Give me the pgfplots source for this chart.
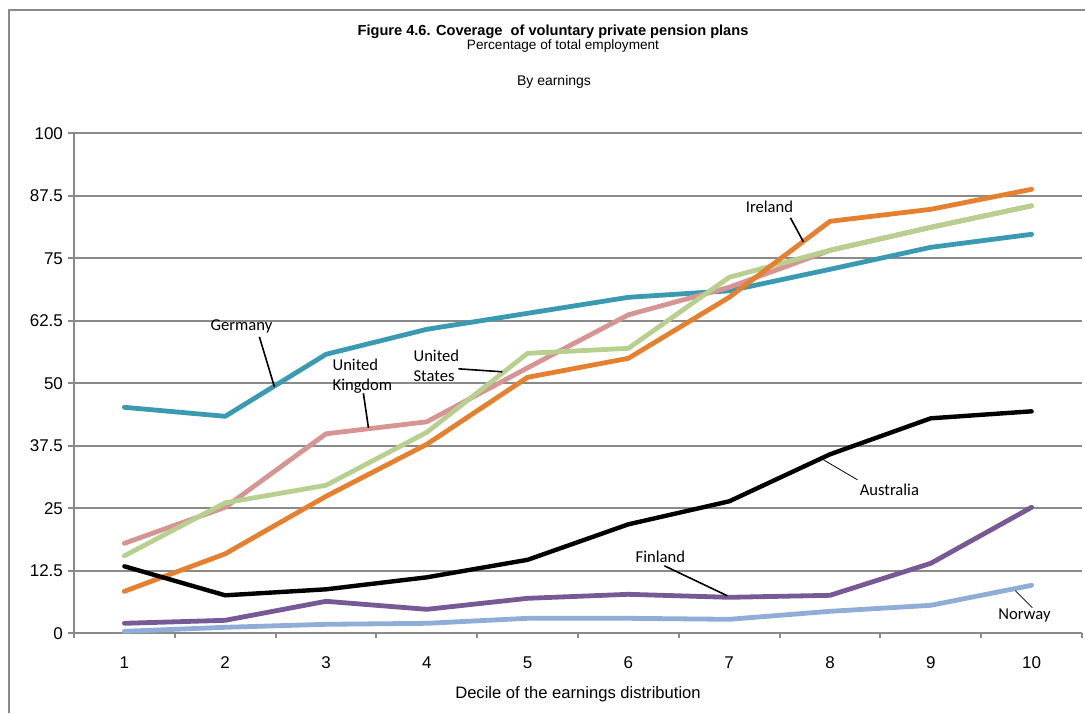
\documentclass[border=0pt]{standalone}
\usepackage{pgfplots}
\pgfplotsset{compat=1.18}
\usepackage{fontspec}
\setmainfont{Liberation Sans}
\newfontfamily\calibri{Carlito}

\definecolor{gridgray}{HTML}{8A8A8A}
\definecolor{germany}{HTML}{3A9AB2}
\definecolor{ireland}{HTML}{E5802F}
\definecolor{uk}{HTML}{D69593}
\definecolor{us}{HTML}{B8D08F}
\definecolor{finland}{HTML}{775A95}
\definecolor{norway}{HTML}{8FADD6}

\begin{document}
\begin{tikzpicture}
% page: 1085 x 713 px, 1 px = 0.5pt, y downward
\useasboundingbox (0,0) rectangle (542.5pt,-356.5pt);
\draw[gridgray, line width=1pt] (4.25pt,-356.5pt) -- (4.25pt,-5pt) -- (542.5pt,-5pt);

\node[font=\fontsize{7.3}{8}\selectfont\bfseries] at (276.5pt,-16pt) {Figure 4.6. Coverage\ \ of voluntary private pension plans};
\node[font=\fontsize{6.8}{8}\selectfont] at (281.5pt,-22.8pt) {Percentage of total employment};
\node[font=\fontsize{7}{8}\selectfont] at (277pt,-41pt) {By earnings};

\begin{axis}[
    at={(37pt,-316.65pt)}, anchor=south west,
    scale only axis, width=504pt, height=250pt,
    xmin=0.5, xmax=10.5, ymin=0, ymax=100,
    clip=false,
    axis x line*=bottom, axis y line*=left,
    axis line style={gridgray, line width=1pt, -},
    xtick={1,...,10},
    minor xtick={0.5,1.5,...,10.5},
    ytick={0,12.5,25,37.5,50,62.5,75,87.5,100},
    yticklabels={0,12.5,25,37.5,50,62.5,75,87.5,100},
    tick align=outside,
    major tick length=3pt, minor tick length=2.5pt,
    x tick style={draw=none},
    minor x tick style={draw=gridgray, line width=1pt},
    y tick style={gridgray, line width=1pt},
    ymajorgrids,
    grid style={gridgray, line width=1pt},
    tick label style={font=\fontsize{8.5}{10}\selectfont},
    yticklabel style={xshift=1pt},
    xticklabel style={yshift=-5pt},
    /pgf/number format/assume math mode=true,
    xlabel={Decile of the earnings distribution},
    xlabel style={font=\fontsize{8.3}{10}\selectfont, yshift=-2pt},
    every axis plot/.append style={line width=2.4pt, line join=round, line cap=round, mark=none},
]
\addplot[germany] coordinates {(1,45.2) (2,43.4) (3,55.8) (4,60.8) (5,64.0) (6,67.2) (7,68.5) (8,72.8) (9,77.2) (10,79.8)};
\addplot[uk] coordinates {(1,18.0) (2,25.2) (3,39.9) (4,42.3) (5,53.1) (6,63.7) (7,69.2) (8,76.6) (9,81.2) (10,85.5)};
\addplot[us] coordinates {(1,15.5) (2,26.1) (3,29.6) (4,40.2) (5,56.0) (6,57.0) (7,71.2) (8,76.6) (9,81.2) (10,85.5)};
\addplot[ireland] coordinates {(1,8.4) (2,15.9) (3,27.4) (4,37.8) (5,51.2) (6,55.0) (7,67.2) (8,82.4) (9,84.8) (10,88.8)};
\addplot[black, line width=2.2pt] coordinates {(1,13.4) (2,7.6) (3,8.8) (4,11.2) (5,14.7) (6,21.8) (7,26.4) (8,35.8) (9,43.0) (10,44.4)};
\addplot[finland] coordinates {(1,2.0) (2,2.6) (3,6.4) (4,4.8) (5,7.0) (6,7.8) (7,7.2) (8,7.6) (9,14.0) (10,25.2)};
\addplot[norway] coordinates {(1,0.4) (2,1.2) (3,1.8) (4,2.0) (5,3.0) (6,3.0) (7,2.8) (8,4.4) (9,5.6) (10,9.6)};

% annotations
\begin{scope}[every node/.style={font=\calibri\fontsize{8.3}{10}\selectfont, align=left, inner sep=0pt}]
\node at (axis cs:2.161,61.3) {Germany};
\draw[line width=0.8pt] (axis cs:2.339,59.3) -- (axis cs:2.488,49.3);
\node at (axis cs:3.361,51.5) {United\\Kingdom};
\draw[line width=0.8pt] (axis cs:3.371,48.0) -- (axis cs:3.421,41.1);
\node at (axis cs:4.095,53.5) {United\\States};
\draw[line width=0.8pt] (axis cs:4.313,52.9) -- (axis cs:4.75,52.3);
\node at (axis cs:7.399,85.3) {Ireland};
\draw[line width=0.8pt] (axis cs:7.607,83.1) -- (axis cs:7.736,78.3);
\node at (axis cs:8.589,28.7) {Australia};
\draw[line width=0.4pt] (axis cs:7.935,34.7) -- (axis cs:8.272,30.7);
\node at (axis cs:6.317,15.3) {Finland};
\draw[line width=0.8pt] (axis cs:6.357,13.5) -- (axis cs:6.982,7.5);
\node at (axis cs:9.929,3.5) {Norway};
\draw[line width=0.4pt] (axis cs:9.839,8.5) -- (axis cs:10.008,5.1);
\end{scope}
\end{axis}
\end{tikzpicture}
\end{document}
